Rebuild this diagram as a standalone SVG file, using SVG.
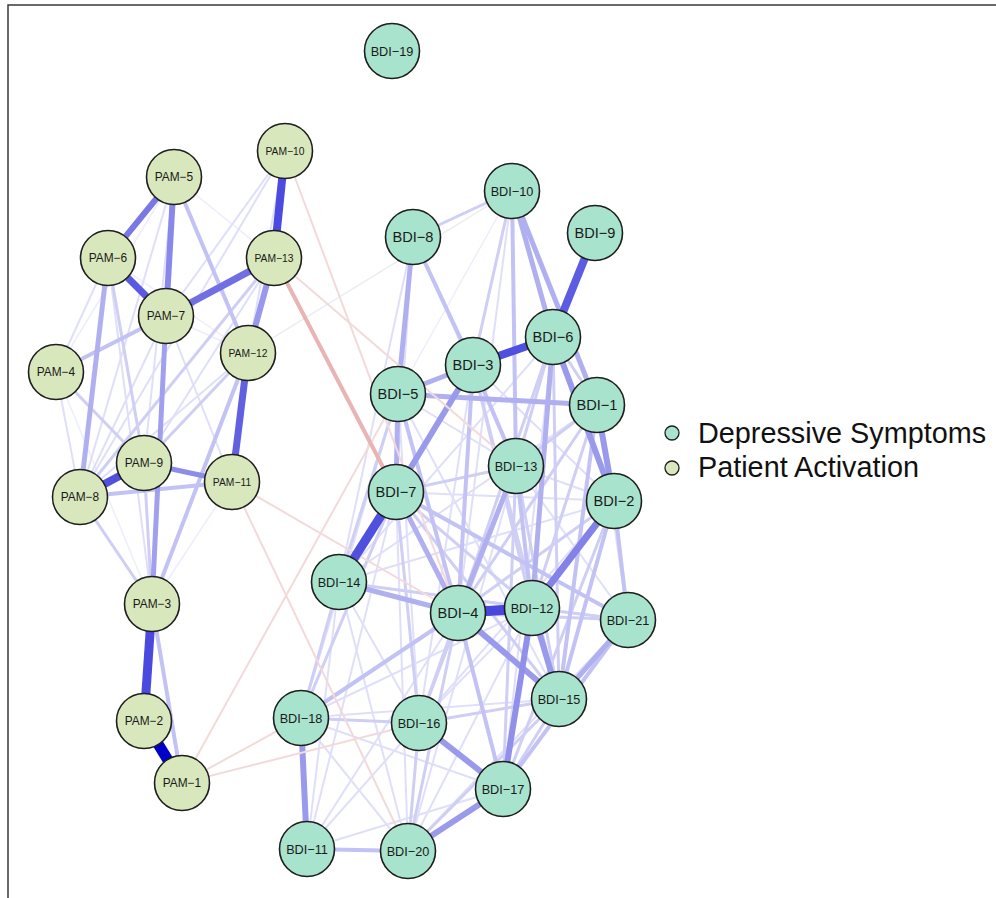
<svg xmlns="http://www.w3.org/2000/svg" width="996" height="898" viewBox="0 0 996 898">
<style>
.bg{fill:#ffffff}
.frame{fill:none;stroke:#3a3a3a;stroke-width:1.5}
#edges line{stroke-linecap:butt;fill:none}
.f1{stroke:#ededfc;stroke-width:1.5}
.f2{stroke:#dfdff9;stroke-width:2}
.f3{stroke:#cfcff6;stroke-width:3}
.f4{stroke:#c2c2f4;stroke-width:4}
.f5{stroke:#b0b0f0;stroke-width:5}
.f6{stroke:#9a9aec;stroke-width:6}
.r1{stroke:#f3dada;stroke-width:2}
.r2{stroke:#e8b4b4;stroke-width:4}
.g1{stroke:#ececf3;stroke-width:1.5}
.node circle{stroke:#1e1e1e;stroke-width:1.6}
.b circle{fill:#a8e3cd}
.p circle{fill:#d9e7bc}
.node text{font-family:"Liberation Sans",Arial,Helvetica,sans-serif;fill:#1a1a1a;text-anchor:middle}
.s14{font-size:14.6px}
.s12{font-size:12.7px}
.s11{font-size:11.9px}
.s10{font-size:10.3px}
.leg text{font-family:"Liberation Sans",Arial,Helvetica,sans-serif;font-size:28.8px;fill:#111}
.leg circle{stroke:#1e1e1e;stroke-width:1.3}
</style>
<rect class="bg" x="0" y="0" width="996" height="898"/>
<path class="frame" d="M8,898 L8,5 L996,5"/>
<g id="edges">
<line class="f1" x1="56" y1="372" x2="174" y2="177"/>
<line class="f1" x1="56" y1="372" x2="152" y2="604"/>
<line class="f1" x1="174" y1="177" x2="274" y2="258"/>
<line class="f1" x1="174" y1="177" x2="152" y2="604"/>
<line class="f1" x1="108" y1="258" x2="248" y2="353"/>
<line class="f1" x1="166" y1="316" x2="248" y2="353"/>
<line class="f1" x1="232" y1="482" x2="152" y2="604"/>
<line class="f2" x1="56" y1="372" x2="108" y2="258"/>
<line class="f2" x1="56" y1="372" x2="80" y2="497"/>
<line class="f2" x1="174" y1="177" x2="80" y2="497"/>
<line class="f2" x1="174" y1="177" x2="144" y2="463"/>
<line class="f2" x1="108" y1="258" x2="152" y2="604"/>
<line class="f2" x1="166" y1="316" x2="80" y2="497"/>
<line class="f2" x1="166" y1="316" x2="232" y2="482"/>
<line class="f2" x1="285" y1="151" x2="166" y2="316"/>
<line class="f2" x1="285" y1="151" x2="80" y2="497"/>
<line class="f2" x1="285" y1="151" x2="248" y2="353"/>
<line class="f2" x1="274" y1="258" x2="144" y2="463"/>
<line class="f2" x1="248" y1="353" x2="80" y2="497"/>
<line class="f3" x1="108" y1="258" x2="144" y2="463"/>
<line class="f3" x1="274" y1="258" x2="80" y2="497"/>
<line class="f3" x1="248" y1="353" x2="144" y2="463"/>
<line class="f3" x1="144" y1="463" x2="152" y2="604"/>
<line class="f3" x1="80" y1="497" x2="152" y2="604"/>
<line class="f3" x1="56" y1="372" x2="144" y2="463"/>
<line class="f4" x1="56" y1="372" x2="166" y2="316"/>
<line class="f4" x1="80" y1="497" x2="232" y2="482"/>
<line class="f4" x1="248" y1="353" x2="152" y2="604"/>
<line class="f4" x1="152" y1="604" x2="182" y2="783"/>
<line class="f4" x1="174" y1="177" x2="248" y2="353"/>
<line class="f1" x1="512" y1="191" x2="398" y2="394"/>
<line class="f2" x1="413" y1="237" x2="396" y2="492"/>
<line class="f2" x1="413" y1="237" x2="339" y2="582"/>
<line class="f2" x1="413" y1="237" x2="516" y2="466"/>
<line class="f2" x1="512" y1="191" x2="458" y2="613"/>
<line class="f2" x1="398" y1="394" x2="516" y2="466"/>
<line class="f2" x1="398" y1="394" x2="559" y2="699"/>
<line class="f2" x1="398" y1="394" x2="419" y2="723"/>
<line class="f2" x1="398" y1="394" x2="301" y2="718"/>
<line class="f2" x1="473" y1="365" x2="419" y2="723"/>
<line class="f2" x1="473" y1="365" x2="614" y2="501"/>
<line class="f2" x1="553" y1="337" x2="339" y2="582"/>
<line class="f2" x1="553" y1="337" x2="503" y2="789"/>
<line class="f2" x1="597" y1="405" x2="339" y2="582"/>
<line class="f2" x1="597" y1="405" x2="628" y2="620"/>
<line class="f2" x1="396" y1="492" x2="408" y2="851"/>
<line class="f2" x1="396" y1="492" x2="307" y2="849"/>
<line class="f2" x1="396" y1="492" x2="614" y2="501"/>
<line class="f2" x1="516" y1="466" x2="614" y2="501"/>
<line class="f2" x1="516" y1="466" x2="628" y2="620"/>
<line class="f2" x1="516" y1="466" x2="408" y2="851"/>
<line class="f2" x1="339" y1="582" x2="419" y2="723"/>
<line class="f2" x1="339" y1="582" x2="408" y2="851"/>
<line class="f2" x1="339" y1="582" x2="307" y2="849"/>
<line class="f2" x1="339" y1="582" x2="628" y2="620"/>
<line class="f2" x1="458" y1="613" x2="307" y2="849"/>
<line class="f2" x1="532" y1="608" x2="419" y2="723"/>
<line class="f2" x1="532" y1="608" x2="408" y2="851"/>
<line class="f2" x1="532" y1="608" x2="301" y2="718"/>
<line class="f2" x1="614" y1="501" x2="419" y2="723"/>
<line class="f2" x1="614" y1="501" x2="339" y2="582"/>
<line class="f2" x1="628" y1="620" x2="408" y2="851"/>
<line class="f2" x1="559" y1="699" x2="301" y2="718"/>
<line class="f2" x1="419" y1="723" x2="307" y2="849"/>
<line class="f2" x1="301" y1="718" x2="408" y2="851"/>
<line class="f2" x1="301" y1="718" x2="503" y2="789"/>
<line class="f2" x1="307" y1="849" x2="503" y2="789"/>
<line class="f3" x1="512" y1="191" x2="473" y2="365"/>
<line class="f3" x1="413" y1="237" x2="512" y2="191"/>
<line class="f3" x1="398" y1="394" x2="339" y2="582"/>
<line class="f3" x1="473" y1="365" x2="532" y2="608"/>
<line class="f3" x1="473" y1="365" x2="559" y2="699"/>
<line class="f3" x1="473" y1="365" x2="339" y2="582"/>
<line class="f3" x1="553" y1="337" x2="516" y2="466"/>
<line class="f3" x1="553" y1="337" x2="458" y2="613"/>
<line class="f3" x1="553" y1="337" x2="559" y2="699"/>
<line class="f3" x1="597" y1="405" x2="516" y2="466"/>
<line class="f3" x1="597" y1="405" x2="532" y2="608"/>
<line class="f3" x1="597" y1="405" x2="458" y2="613"/>
<line class="f3" x1="396" y1="492" x2="516" y2="466"/>
<line class="f3" x1="396" y1="492" x2="532" y2="608"/>
<line class="f3" x1="396" y1="492" x2="559" y2="699"/>
<line class="f3" x1="396" y1="492" x2="419" y2="723"/>
<line class="f3" x1="396" y1="492" x2="301" y2="718"/>
<line class="f3" x1="516" y1="466" x2="559" y2="699"/>
<line class="f3" x1="516" y1="466" x2="503" y2="789"/>
<line class="f3" x1="516" y1="466" x2="419" y2="723"/>
<line class="f3" x1="339" y1="582" x2="532" y2="608"/>
<line class="f3" x1="339" y1="582" x2="301" y2="718"/>
<line class="f3" x1="458" y1="613" x2="419" y2="723"/>
<line class="f3" x1="458" y1="613" x2="408" y2="851"/>
<line class="f3" x1="458" y1="613" x2="628" y2="620"/>
<line class="f3" x1="458" y1="613" x2="614" y2="501"/>
<line class="f3" x1="532" y1="608" x2="628" y2="620"/>
<line class="f3" x1="614" y1="501" x2="503" y2="789"/>
<line class="f3" x1="559" y1="699" x2="503" y2="789"/>
<line class="f3" x1="559" y1="699" x2="419" y2="723"/>
<line class="f3" x1="559" y1="699" x2="408" y2="851"/>
<line class="f3" x1="419" y1="723" x2="408" y2="851"/>
<line class="f3" x1="301" y1="718" x2="419" y2="723"/>
<line class="f3" x1="553" y1="337" x2="597" y2="405"/>
<line class="f4" x1="512" y1="191" x2="516" y2="466"/>
<line class="f4" x1="413" y1="237" x2="473" y2="365"/>
<line class="f4" x1="398" y1="394" x2="458" y2="613"/>
<line class="f4" x1="473" y1="365" x2="458" y2="613"/>
<line class="f4" x1="473" y1="365" x2="516" y2="466"/>
<line class="f4" x1="597" y1="405" x2="559" y2="699"/>
<line class="f4" x1="396" y1="492" x2="628" y2="620"/>
<line class="f4" x1="516" y1="466" x2="532" y2="608"/>
<line class="f4" x1="458" y1="613" x2="503" y2="789"/>
<line class="f4" x1="458" y1="613" x2="301" y2="718"/>
<line class="f4" x1="614" y1="501" x2="559" y2="699"/>
<line class="f4" x1="628" y1="620" x2="503" y2="789"/>
<line class="f4" x1="307" y1="849" x2="408" y2="851"/>
<line class="f4" x1="614" y1="501" x2="628" y2="620"/>
<line class="f5" x1="628" y1="620" x2="559" y2="699"/>
<line class="f5" x1="413" y1="237" x2="398" y2="394"/>
<line class="f5" x1="553" y1="337" x2="532" y2="608"/>
<line class="f5" x1="516" y1="466" x2="458" y2="613"/>
<line class="f5" x1="339" y1="582" x2="458" y2="613"/>
<line class="f5" x1="398" y1="394" x2="396" y2="492"/>
<line class="f5" x1="398" y1="394" x2="473" y2="365"/>
<line class="f5" x1="398" y1="394" x2="597" y2="405"/>
<line class="f5" x1="396" y1="492" x2="458" y2="613"/>
<line class="f5" x1="512" y1="191" x2="597" y2="405"/>
<line class="f5" x1="512" y1="191" x2="553" y2="337"/>
<line class="f6" x1="419" y1="723" x2="503" y2="789"/>
<line class="f6" x1="503" y1="789" x2="408" y2="851"/>
<line class="f6" x1="301" y1="718" x2="307" y2="849"/>
<line class="f6" x1="532" y1="608" x2="559" y2="699"/>
<line class="f6" x1="458" y1="613" x2="559" y2="699"/>
<line class="f6" x1="597" y1="405" x2="614" y2="501"/>
<line class="f6" x1="473" y1="365" x2="396" y2="492"/>
<line class="f6" x1="553" y1="337" x2="614" y2="501"/>
<line stroke="#9090ea" stroke-width="6" x1="532" y1="608" x2="503" y2="789"/>
<line stroke="#8282e8" stroke-width="7" x1="614" y1="501" x2="532" y2="608"/>
<line class="g1" x1="248" y1="353" x2="512" y2="191"/>
<line class="r1" x1="285" y1="151" x2="458" y2="613"/>
<line class="r1" x1="274" y1="258" x2="516" y2="466"/>
<line class="r1" x1="232" y1="482" x2="458" y2="613"/>
<line class="r1" x1="232" y1="482" x2="408" y2="851"/>
<line class="r1" x1="182" y1="783" x2="398" y2="394"/>
<line class="r1" x1="182" y1="783" x2="301" y2="718"/>
<line class="r1" x1="182" y1="783" x2="419" y2="723"/>
<line class="r2" x1="274" y1="258" x2="396" y2="492"/>
<line class="f5" x1="108" y1="258" x2="80" y2="497"/>
<line stroke="#a0a0ee" stroke-width="5" x1="166" y1="316" x2="152" y2="604"/>
<line stroke="#8c8cea" stroke-width="5" x1="144" y1="463" x2="232" y2="482"/>
<line stroke="#9898ec" stroke-width="6" x1="274" y1="258" x2="248" y2="353"/>
<line stroke="#8888ea" stroke-width="6" x1="174" y1="177" x2="166" y2="316"/>
<line stroke="#7878e6" stroke-width="6" x1="174" y1="177" x2="108" y2="258"/>
<line stroke="#7070e4" stroke-width="7" x1="166" y1="316" x2="274" y2="258"/>
<line stroke="#5a5ae0" stroke-width="7" x1="108" y1="258" x2="166" y2="316"/>
<line stroke="#6060e0" stroke-width="7" x1="248" y1="353" x2="232" y2="482"/>
<line stroke="#5050dc" stroke-width="8" x1="144" y1="463" x2="80" y2="497"/>
<line stroke="#4b4bdf" stroke-width="8" x1="285" y1="151" x2="274" y2="258"/>
<line stroke="#4a4ade" stroke-width="9" x1="152" y1="604" x2="144" y2="721"/>
<line stroke="#0000c8" stroke-width="11" x1="144" y1="721" x2="182" y2="783"/>
<line stroke="#5050de" stroke-width="9" x1="396" y1="492" x2="339" y2="582"/>
<line stroke="#5050de" stroke-width="8" x1="473" y1="365" x2="553" y2="337"/>
<line stroke="#5c5ce2" stroke-width="8" x1="595" y1="233" x2="553" y2="337"/>
<line stroke="#4848dc" stroke-width="10" x1="458" y1="613" x2="532" y2="608"/>
</g>
<g id="PAM-1" class="node p"><circle cx="182" cy="783" r="27.5"/><text class="s11" x="182" y="787.2">PAM−1</text></g>
<g id="PAM-2" class="node p"><circle cx="144" cy="721" r="27.5"/><text class="s11" x="144" y="725.2">PAM−2</text></g>
<g id="PAM-3" class="node p"><circle cx="152" cy="604" r="27.5"/><text class="s11" x="152" y="608.2">PAM−3</text></g>
<g id="PAM-4" class="node p"><circle cx="56" cy="372" r="27.5"/><text class="s11" x="56" y="376.2">PAM−4</text></g>
<g id="PAM-5" class="node p"><circle cx="174" cy="177" r="27.5"/><text class="s11" x="174" y="181.2">PAM−5</text></g>
<g id="PAM-6" class="node p"><circle cx="108" cy="258" r="27.5"/><text class="s11" x="108" y="262.2">PAM−6</text></g>
<g id="PAM-7" class="node p"><circle cx="166" cy="316" r="27.5"/><text class="s11" x="166" y="320.2">PAM−7</text></g>
<g id="PAM-8" class="node p"><circle cx="80" cy="497" r="27.5"/><text class="s11" x="80" y="501.2">PAM−8</text></g>
<g id="PAM-9" class="node p"><circle cx="144" cy="463" r="27.5"/><text class="s11" x="144" y="467.2">PAM−9</text></g>
<g id="PAM-10" class="node p"><circle cx="285" cy="151" r="27.5"/><text class="s10" x="285" y="154.6">PAM−10</text></g>
<g id="PAM-11" class="node p"><circle cx="232" cy="482" r="27.5"/><text class="s10" x="232" y="485.6">PAM−11</text></g>
<g id="PAM-12" class="node p"><circle cx="248" cy="353" r="27.5"/><text class="s10" x="248" y="356.6">PAM−12</text></g>
<g id="PAM-13" class="node p"><circle cx="274" cy="258" r="27.5"/><text class="s10" x="274" y="261.6">PAM−13</text></g>
<g id="BDI-1" class="node b"><circle cx="597" cy="405" r="27.5"/><text class="s14" x="597" y="410.2">BDI−1</text></g>
<g id="BDI-2" class="node b"><circle cx="614" cy="501" r="27.5"/><text class="s14" x="614" y="506.2">BDI−2</text></g>
<g id="BDI-3" class="node b"><circle cx="473" cy="365" r="27.5"/><text class="s14" x="473" y="370.2">BDI−3</text></g>
<g id="BDI-4" class="node b"><circle cx="458" cy="613" r="27.5"/><text class="s14" x="458" y="618.2">BDI−4</text></g>
<g id="BDI-5" class="node b"><circle cx="398" cy="394" r="27.5"/><text class="s14" x="398" y="399.2">BDI−5</text></g>
<g id="BDI-6" class="node b"><circle cx="553" cy="337" r="27.5"/><text class="s14" x="553" y="342.2">BDI−6</text></g>
<g id="BDI-7" class="node b"><circle cx="396" cy="492" r="27.5"/><text class="s14" x="396" y="497.2">BDI−7</text></g>
<g id="BDI-8" class="node b"><circle cx="413" cy="237" r="27.5"/><text class="s14" x="413" y="242.2">BDI−8</text></g>
<g id="BDI-9" class="node b"><circle cx="595" cy="233" r="27.5"/><text class="s14" x="595" y="238.2">BDI−9</text></g>
<g id="BDI-10" class="node b"><circle cx="512" cy="191" r="27.5"/><text class="s12" x="512" y="195.5">BDI−10</text></g>
<g id="BDI-11" class="node b"><circle cx="307" cy="849" r="27.5"/><text class="s12" x="307" y="853.5">BDI−11</text></g>
<g id="BDI-12" class="node b"><circle cx="532" cy="608" r="27.5"/><text class="s12" x="532" y="612.5">BDI−12</text></g>
<g id="BDI-13" class="node b"><circle cx="516" cy="466" r="27.5"/><text class="s12" x="516" y="470.5">BDI−13</text></g>
<g id="BDI-14" class="node b"><circle cx="339" cy="582" r="27.5"/><text class="s12" x="339" y="586.5">BDI−14</text></g>
<g id="BDI-15" class="node b"><circle cx="559" cy="699" r="27.5"/><text class="s12" x="559" y="703.5">BDI−15</text></g>
<g id="BDI-16" class="node b"><circle cx="419" cy="723" r="27.5"/><text class="s12" x="419" y="727.5">BDI−16</text></g>
<g id="BDI-17" class="node b"><circle cx="503" cy="789" r="27.5"/><text class="s12" x="503" y="793.5">BDI−17</text></g>
<g id="BDI-18" class="node b"><circle cx="301" cy="718" r="27.5"/><text class="s12" x="301" y="722.5">BDI−18</text></g>
<g id="BDI-19" class="node b"><circle cx="392" cy="51" r="27.5"/><text class="s12" x="392" y="55.5">BDI−19</text></g>
<g id="BDI-20" class="node b"><circle cx="408" cy="851" r="27.5"/><text class="s12" x="408" y="855.5">BDI−20</text></g>
<g id="BDI-21" class="node b"><circle cx="628" cy="620" r="27.5"/><text class="s12" x="628" y="624.5">BDI−21</text></g>
<g id="legend" class="leg">
<circle cx="672" cy="433" r="7" fill="#a8e3cd"/>
<text x="698" y="443">Depressive Symptoms</text>
<circle cx="672" cy="468" r="7" fill="#d9e7bc"/>
<text x="698" y="477">Patient Activation</text>
</g>
</svg>
